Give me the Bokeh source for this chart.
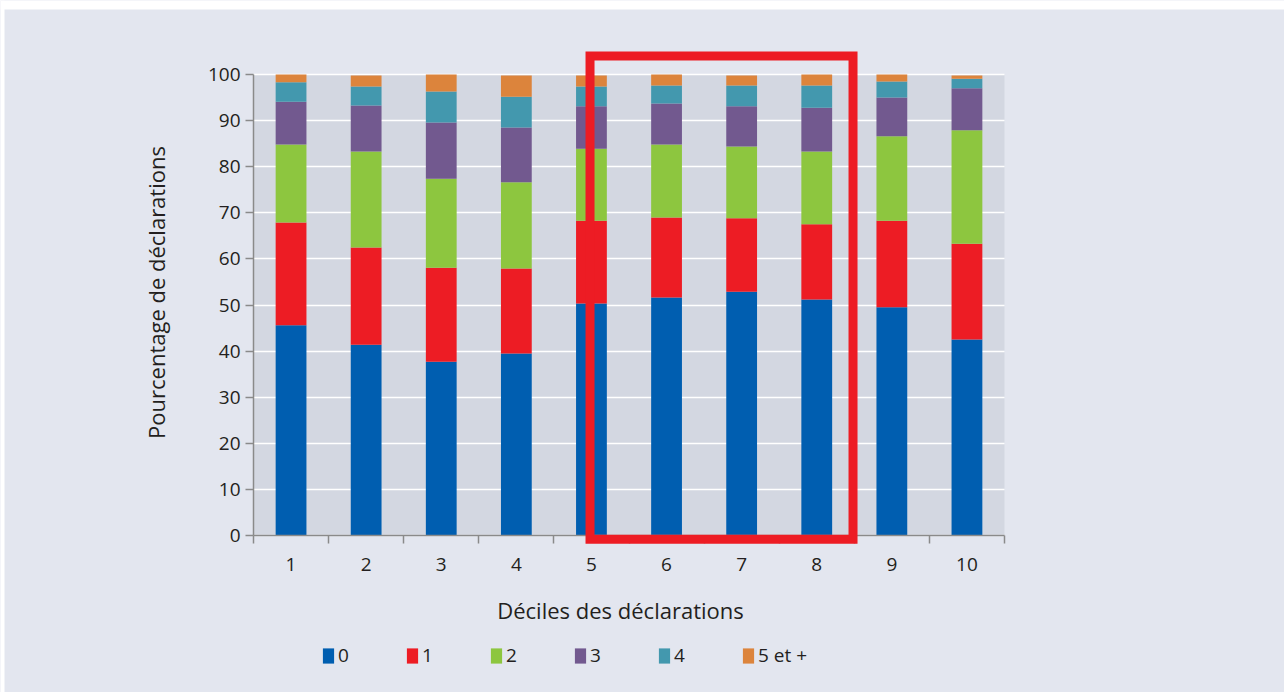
import math
from bokeh.plotting import figure
from bokeh.models import (ColumnDataSource, Range1d, FixedTicker, Legend, LegendItem,
                          BoxAnnotation, Label)
from bokeh.embed import file_html
from bokeh.resources import INLINE

# ---- data ----
deciles = ["1", "2", "3", "4", "5", "6", "7", "8", "9", "10"]
series_names = ["0", "1", "2", "3", "4", "5 et +"]
s0 = [45.6, 41.4, 37.7, 39.5, 50.3, 51.6, 52.9, 51.2, 49.5, 42.5]
s1 = [22.3, 21.1, 20.4, 18.4, 18.0, 17.4, 15.9, 16.3, 18.8, 20.8]
s2 = [16.9, 20.8, 19.3, 18.7, 15.6, 15.8, 15.6, 15.8, 18.3, 24.6]
s3 = [9.3, 10.0, 12.2, 11.9, 9.2, 8.9, 8.7, 9.5, 8.4, 9.1]
s4 = [4.2, 4.1, 6.7, 6.7, 4.3, 3.9, 4.5, 4.8, 3.5, 2.1]
s5 = [1.7, 2.4, 3.7, 4.6, 2.4, 2.4, 2.2, 2.4, 1.5, 0.7]
colors = ["#005eb0", "#ed1c24", "#8dc63f", "#72598f", "#4398ae", "#dc843c"]
y_ticks = [0, 10, 20, 30, 40, 50, 60, 70, 80, 90, 100]
x_title = "Déciles des déclarations"
y_title = "Pourcentage de déclarations"

FONT = "Open Sans"
TXT = "#231f20"
PANEL = "#e3e6ef"
PLOTBG = "#d3d7e1"
AXC = "#8a8a8a"

# layout geometry (pixels) -- the frame covers the whole canvas
W, H = 1284, 692
PL, PR = 253, 1004          # plot-area left / right pixel
Y0, Y100 = 535, 74          # pixel rows of 0 and 100
n = len(deciles)
ppx = (PR - PL) / n
ppu = (Y0 - Y100) / 100.0
x_lo = 0.5 - PL / ppx
x_hi = 0.5 + (W - PL) / ppx
y_lo = -(H - Y0) / ppu
y_hi = Y0 / ppu

xpos = list(range(1, n + 1))
keys = ["s0", "s1", "s2", "s3", "s4", "s5"]
source = ColumnDataSource(dict(x=xpos, s0=s0, s1=s1, s2=s2, s3=s3, s4=s4, s5=s5))

p = figure(width=W, height=H, output_backend="svg", toolbar_location=None,
           x_range=Range1d(x_lo, x_hi), y_range=Range1d(y_lo, y_hi),
           min_border=0, min_border_left=0, min_border_right=0,
           min_border_top=0, min_border_bottom=0)
p.background_fill_color = PANEL
p.border_fill_color = PANEL
p.outline_line_color = None

# white page strips (top / left) outside the panel
p.add_layout(BoxAnnotation(bottom=(Y0 - 9) / ppu, fill_color="white", fill_alpha=1,
                           line_color=None, level="image"))
p.add_layout(BoxAnnotation(right=0.5 + (4 - PL) / ppx, fill_color="white", fill_alpha=1,
                           line_color=None, level="image"))

# grey plotting area between 0 and 100
p.add_layout(BoxAnnotation(left=0.5, right=n + 0.5, bottom=0, top=100,
                           fill_color=PLOTBG, fill_alpha=1, line_color=None,
                           level="image"))

renderers = p.vbar_stack(keys, x="x", width=0.41, color=colors, source=source,
                         line_color=None)

# grid
p.xgrid.grid_line_color = None
p.ygrid.grid_line_color = "white"
p.ygrid.grid_line_width = 1.6
p.ygrid.ticker = FixedTicker(ticks=y_ticks)
p.ygrid.cross_bounds = (0.5, n + 0.5)

# y axis (fixed at left edge of the plot area)
p.yaxis.fixed_location = 0.5
p.yaxis.bounds = (0, 100)
p.yaxis.ticker = FixedTicker(ticks=y_ticks)
p.yaxis.major_label_text_font = FONT
p.yaxis.major_label_text_font_size = "19px"
p.yaxis.major_label_text_color = TXT
p.yaxis.major_label_standoff = 5
p.yaxis.major_tick_out = 8
p.yaxis.major_tick_in = 0
p.yaxis.minor_tick_line_color = None
p.yaxis.axis_line_color = AXC
p.yaxis.major_tick_line_color = AXC
p.yaxis.axis_line_width = 1.5
p.yaxis.major_tick_line_width = 1.5

# x axis (sits at y = 0)
p.xaxis.fixed_location = 0
p.xaxis.bounds = (0.5, n + 0.5)
p.xaxis.ticker = FixedTicker(ticks=xpos, minor_ticks=[v + 0.5 for v in range(0, n + 1)])
p.xaxis.major_label_overrides = {x: d for x, d in zip(xpos, deciles)}
p.xaxis.major_label_text_font = FONT
p.xaxis.major_label_text_font_size = "19px"
p.xaxis.major_label_text_color = TXT
p.xaxis.major_label_standoff = 14
p.xaxis.major_tick_out = 8
p.xaxis.major_tick_in = 0
p.xaxis.major_tick_line_color = None
p.xaxis.minor_tick_out = 8
p.xaxis.minor_tick_in = 0
p.xaxis.minor_tick_line_color = AXC
p.xaxis.minor_tick_line_width = 1.5
p.xaxis.axis_line_color = AXC
p.xaxis.axis_line_width = 1.5

# axis titles
p.add_layout(Label(x=155, y=H - 292, x_units="screen", y_units="screen",
                   text=y_title, angle=math.pi / 2, text_align="center",
                   text_baseline="middle", text_font=FONT, text_font_size="22px",
                   text_color=TXT))
p.add_layout(Label(x=620, y=H - 609, x_units="screen", y_units="screen",
                   text=x_title, text_align="center", text_baseline="middle",
                   text_font=FONT, text_font_size="22px", text_color=TXT))

# legend
items = [LegendItem(label=nm, renderers=[r]) for nm, r in zip(series_names, renderers)]
legend = Legend(items=items, orientation="horizontal", location=(321, 24),
                glyph_width=14, glyph_height=19, label_standoff=3, label_width=20,
                spacing=47, padding=0, margin=0, border_line_color=None,
                background_fill_alpha=0, label_text_font=FONT,
                label_text_font_size="19px", label_text_color=TXT)
p.add_layout(legend, "center")

# highlight rectangle (annotation)
box = BoxAnnotation(left=4.981, right=8.483, top=104.0, bottom=-0.8,
                    fill_alpha=0, line_color="#ed1c24", line_width=9, line_alpha=1,
                    line_join="miter")
p.add_layout(box)

open("out.html", "w").write(file_html(p, INLINE))
